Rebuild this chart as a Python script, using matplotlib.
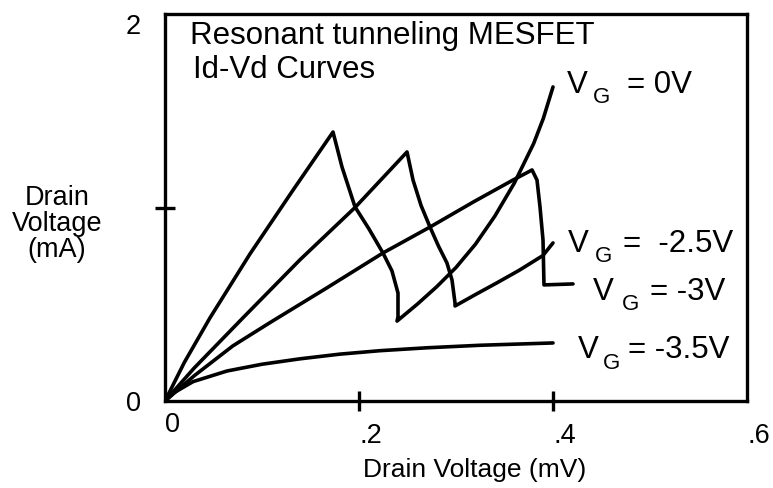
import numpy as np
import matplotlib.pyplot as plt

plt.rcParams['font.family'] = ['Liberation Sans', 'DejaVu Sans']

# Id-Vd curves (drain voltage, drain current)
vg0_x = [0, .02, .0464, .0876, .132, .1732,
         .1825, .1959, .2103, .2247, .234, .2402, .2402, .2392,
         .26, .28, .30, .32, .34, .36, .38, .39, .4]
vg0_y = [0, .2, .43, .76, 1.09, 1.39,
         1.209, 1.003, .889, .765, .672, .558, .434, .413,
         .5, .59, .69, .81, .955, 1.125, 1.33, 1.46, 1.623]

vg25_x = [0, .03, .0804, .1392, .1959, .2495,
          .2557, .2640, .2732, .2820, .2907, .2959, .299, .299,
          .32, .3423, .365, .3897, .4]
vg25_y = [0, .17, .43, .73, 1.0, 1.287,
          1.142, 1.01, .899, .80, .713, .625, .506, .491,
          .55, .611, .675, .752, .817]

vg3_x = [0, .03, .07, .1082, .167, .2247, .2732, .3184, .3588, .3784,
         .3835, .3866, .3897, .3907, .4206]
vg3_y = [0, .13, .285, .405, .585, .765, .899, 1.03, 1.142, 1.194,
         1.142, 1.003, .832, .6, .605]

vg35_x = [0, .01, .0289, .0639, .1, .1392, .18, .2216, .27, .3247, .4]
vg35_y = [0, .045, .1, .155, .19, .218, .242, .26, .275, .288, .300]

curves = [(vg0_x, vg0_y), (vg25_x, vg25_y), (vg3_x, vg3_y), (vg35_x, vg35_y)]
gate_values = ['= 0V', '=  -2.5V', '= -3V', '= -3.5V']

xticks = [0, .2, .4, .6]
xtick_labels = ['0', '.2', '.4', '.6']
yticks = [0, 1, 2]
ytick_labels = ['0', '', '2']

W, H = 773, 488

def px(x, y):
  # pixel position (from top left) -> figure fraction
  return x / W, 1 - y / H

fig = plt.figure(figsize=(W / 100, H / 100), dpi=100)
ax = fig.add_axes([165 / W, 1 - 401 / H, (747 - 165) / W, (401 - 14) / H])

for xs, ys in curves:
  ax.plot(xs, ys, color='black', lw=2.6, solid_joinstyle='round', solid_capstyle='round')

ax.set_xlim(0, .6)
ax.set_ylim(0, 2)
for s in ax.spines.values():
  s.set_linewidth(2.4)

ax.set_xticks(xticks, xtick_labels)
ax.set_yticks(yticks, ytick_labels)
ax.tick_params(axis='both', direction='inout', length=14.5, width=2.4, labelsize=19.5)

xt = ax.xaxis.get_major_ticks()
for i, t in enumerate(xt):
  t.set_pad(0.7 if i == 0 else 8.6)
  if i in (0, 3):
    t.tick1line.set_visible(False)
for lab in ax.get_xticklabels():
  lab.set_ha('left')

yt = ax.yaxis.get_major_ticks()
for i, t in enumerate(yt):
  t.set_pad(10)
  if i != 1:
    t.tick1line.set_visible(False)
ax.get_yticklabels()[2].set_va('top')

ax.set_xlabel('Drain Voltage (mV)', fontsize=19, va='top')
ax.xaxis.set_label_coords((475 - 165) / 582, (401 - 458) / 387)
ax.set_ylabel('Drain\nVoltage\n(mA)', fontsize=19.5, rotation=0, ha='center', va='center',
              linespacing=1.0)
ax.yaxis.set_label_coords((57 - 165) / 582, (401 - 224) / 387)

fig.text(*px(190, 44), 'Resonant tunneling MESFET', fontsize=22.5, va='baseline')
fig.text(*px(193, 78), 'Id-Vd Curves', fontsize=22.5, va='baseline')

# V_G labels: (x of V, baseline of V, x of G, baseline of G, x of "= ...")
label_pos = [(567, 93, 593, 103, 627),
             (568, 252, 595, 262, 623),
             (593, 300, 622, 310, 650),
             (578, 358, 603, 369, 628)]
for (xv, yv, xg, yg, xe), txt in zip(label_pos, gate_values):
  fig.text(*px(xv, yv), 'V', fontsize=22.5, va='baseline')
  fig.text(*px(xg, yg), 'G', fontsize=16, va='baseline')
  fig.text(*px(xe, yv), txt, fontsize=22.5, va='baseline')

fig.savefig('out.png', dpi=100)
